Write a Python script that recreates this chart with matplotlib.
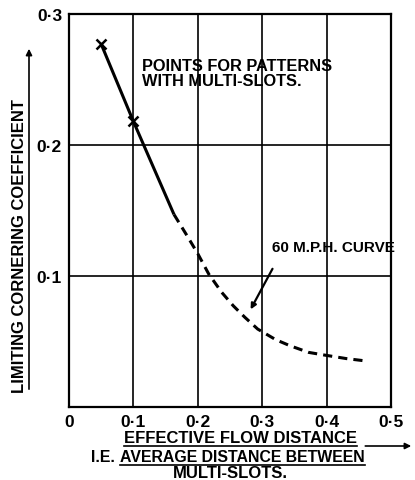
import matplotlib
matplotlib.use("Agg")
import matplotlib.pyplot as plt
from matplotlib import font_manager
from matplotlib.lines import Line2D

# ---- data ----
solid_x = [0.05, 0.10, 0.163]
solid_y = [0.277, 0.218, 0.147]
dash_x = [0.163, 0.183, 0.200, 0.217, 0.237, 0.255, 0.273, 0.293, 0.321, 0.343, 0.372, 0.396, 0.430, 0.465]
dash_y = [0.147, 0.131, 0.117, 0.1015, 0.0876, 0.0773, 0.0685, 0.0595, 0.0514, 0.0468, 0.0417, 0.0397, 0.0370, 0.0349]
point_x = [0.05, 0.10]
point_y = [0.277, 0.218]
x_ticks = [0.0, 0.1, 0.2, 0.3, 0.4, 0.5]
x_tick_labels = ["0", "0·1", "0·2", "0·3", "0·4", "0·5"]
y_ticks = [0.1, 0.2, 0.3]
y_tick_labels = ["0·1", "0·2", "0·3"]

names = {f.name for f in font_manager.fontManager.ttflist}
FAM = "Liberation Sans Narrow" if "Liberation Sans Narrow" in names else "Liberation Sans"
plt.rcParams["font.family"] = [FAM, "DejaVu Sans"]
plt.rcParams["font.weight"] = "bold"

W, H = 415, 481
fig = plt.figure(figsize=(W / 100, H / 100), dpi=100)
ax = fig.add_axes([69 / W, 1 - 408 / H, (391 - 69) / W, (408 - 15) / H])
ax.set_xlim(0, 0.5)
ax.set_ylim(0, 0.3)

for v in x_ticks[1:-1]:
    ax.axvline(v, color="black", lw=1.2, zorder=1)
for v in y_ticks[:-1]:
    ax.axhline(v, color="black", lw=1.2, zorder=1)
for s in ax.spines.values():
    s.set_linewidth(1.6)

ax.set_xticks(x_ticks)
ax.set_xticklabels(x_tick_labels, fontsize=12.5, fontweight="bold")
ax.set_yticks(y_ticks)
ax.set_yticklabels(y_tick_labels, fontsize=12.5, fontweight="bold")
ax.tick_params(length=0, pad=5)

ax.plot(solid_x, solid_y, color="black", lw=2.2, solid_capstyle="butt", zorder=3)
ax.plot(dash_x, dash_y, color="black", lw=2.2, linestyle=(0, (3.0, 2.0)), zorder=3)
ax.plot(point_x, point_y, linestyle="none", marker="x", color="black", ms=7, mew=1.8, zorder=4)

ax.text(0.114, 0.255, "POINTS FOR PATTERNS\nWITH MULTI-SLOTS.", fontsize=11.8,
        fontweight="bold", va="center", ha="left", linespacing=0.95)
ax.text(0.315, 0.122, "60 M.P.H. CURVE", fontsize=11.0, fontweight="bold",
        va="center", ha="left", clip_on=False)
ax.annotate("", xy=(0.282, 0.0745), xytext=(0.316, 0.1055),
            arrowprops=dict(arrowstyle="-|>", color="black", lw=1.6,
                            mutation_scale=8, shrinkA=0, shrinkB=0))

def fx(px):
    return px / W

def fy(py):
    return 1 - py / H

LS = 12.0
ylab = fig.text(fx(20), fy(246), "LIMITING CORNERING COEFFICIENT", rotation=90,
                fontsize=LS, fontweight="bold", ha="center", va="center")
xl1 = fig.text(fx(240), fy(439), "EFFECTIVE FLOW DISTANCE", fontsize=LS,
               fontweight="bold", ha="center", va="center")
xl2b = fig.text(fx(365), fy(458), "AVERAGE DISTANCE BETWEEN", fontsize=11.4,
                fontweight="bold", ha="right", va="center")
xl3 = fig.text(fx(230), fy(474), "MULTI-SLOTS.", fontsize=LS,
               fontweight="bold", ha="center", va="center")

fig.canvas.draw()
r = fig.canvas.get_renderer()
bb2 = xl2b.get_window_extent(r)
xl2a = fig.text((bb2.x0 - 5) / W, fy(458), "I.E.", fontsize=11.4, fontweight="bold",
                ha="right", va="center")
fig.canvas.draw()

def underline(t):
    bb = t.get_window_extent(r)
    y = bb.y0 - 0.5
    fig.add_artist(Line2D([bb.x0 / W, bb.x1 / W], [y / H, y / H], color="black",
                          lw=1.2, transform=fig.transFigure))

underline(xl1)
underline(xl2b)
underline(xl3)

bb = xl1.get_window_extent(r)
yy = (bb.y0 - 0.5) / H
fig.add_artist(matplotlib.patches.FancyArrowPatch(((bb.x1 + 6) / W, yy), (414 / W, yy),
               transform=fig.transFigure, arrowstyle="-|>", mutation_scale=9,
               color="black", lw=1.2))

bb = ylab.get_window_extent(r)
xx = (bb.x1 + 1.5) / W
fig.add_artist(matplotlib.patches.FancyArrowPatch((xx, bb.y0 / H), (xx, fy(47)),
               transform=fig.transFigure, arrowstyle="-|>", mutation_scale=9,
               color="black", lw=1.2))

fig.savefig("out.png", dpi=100)
